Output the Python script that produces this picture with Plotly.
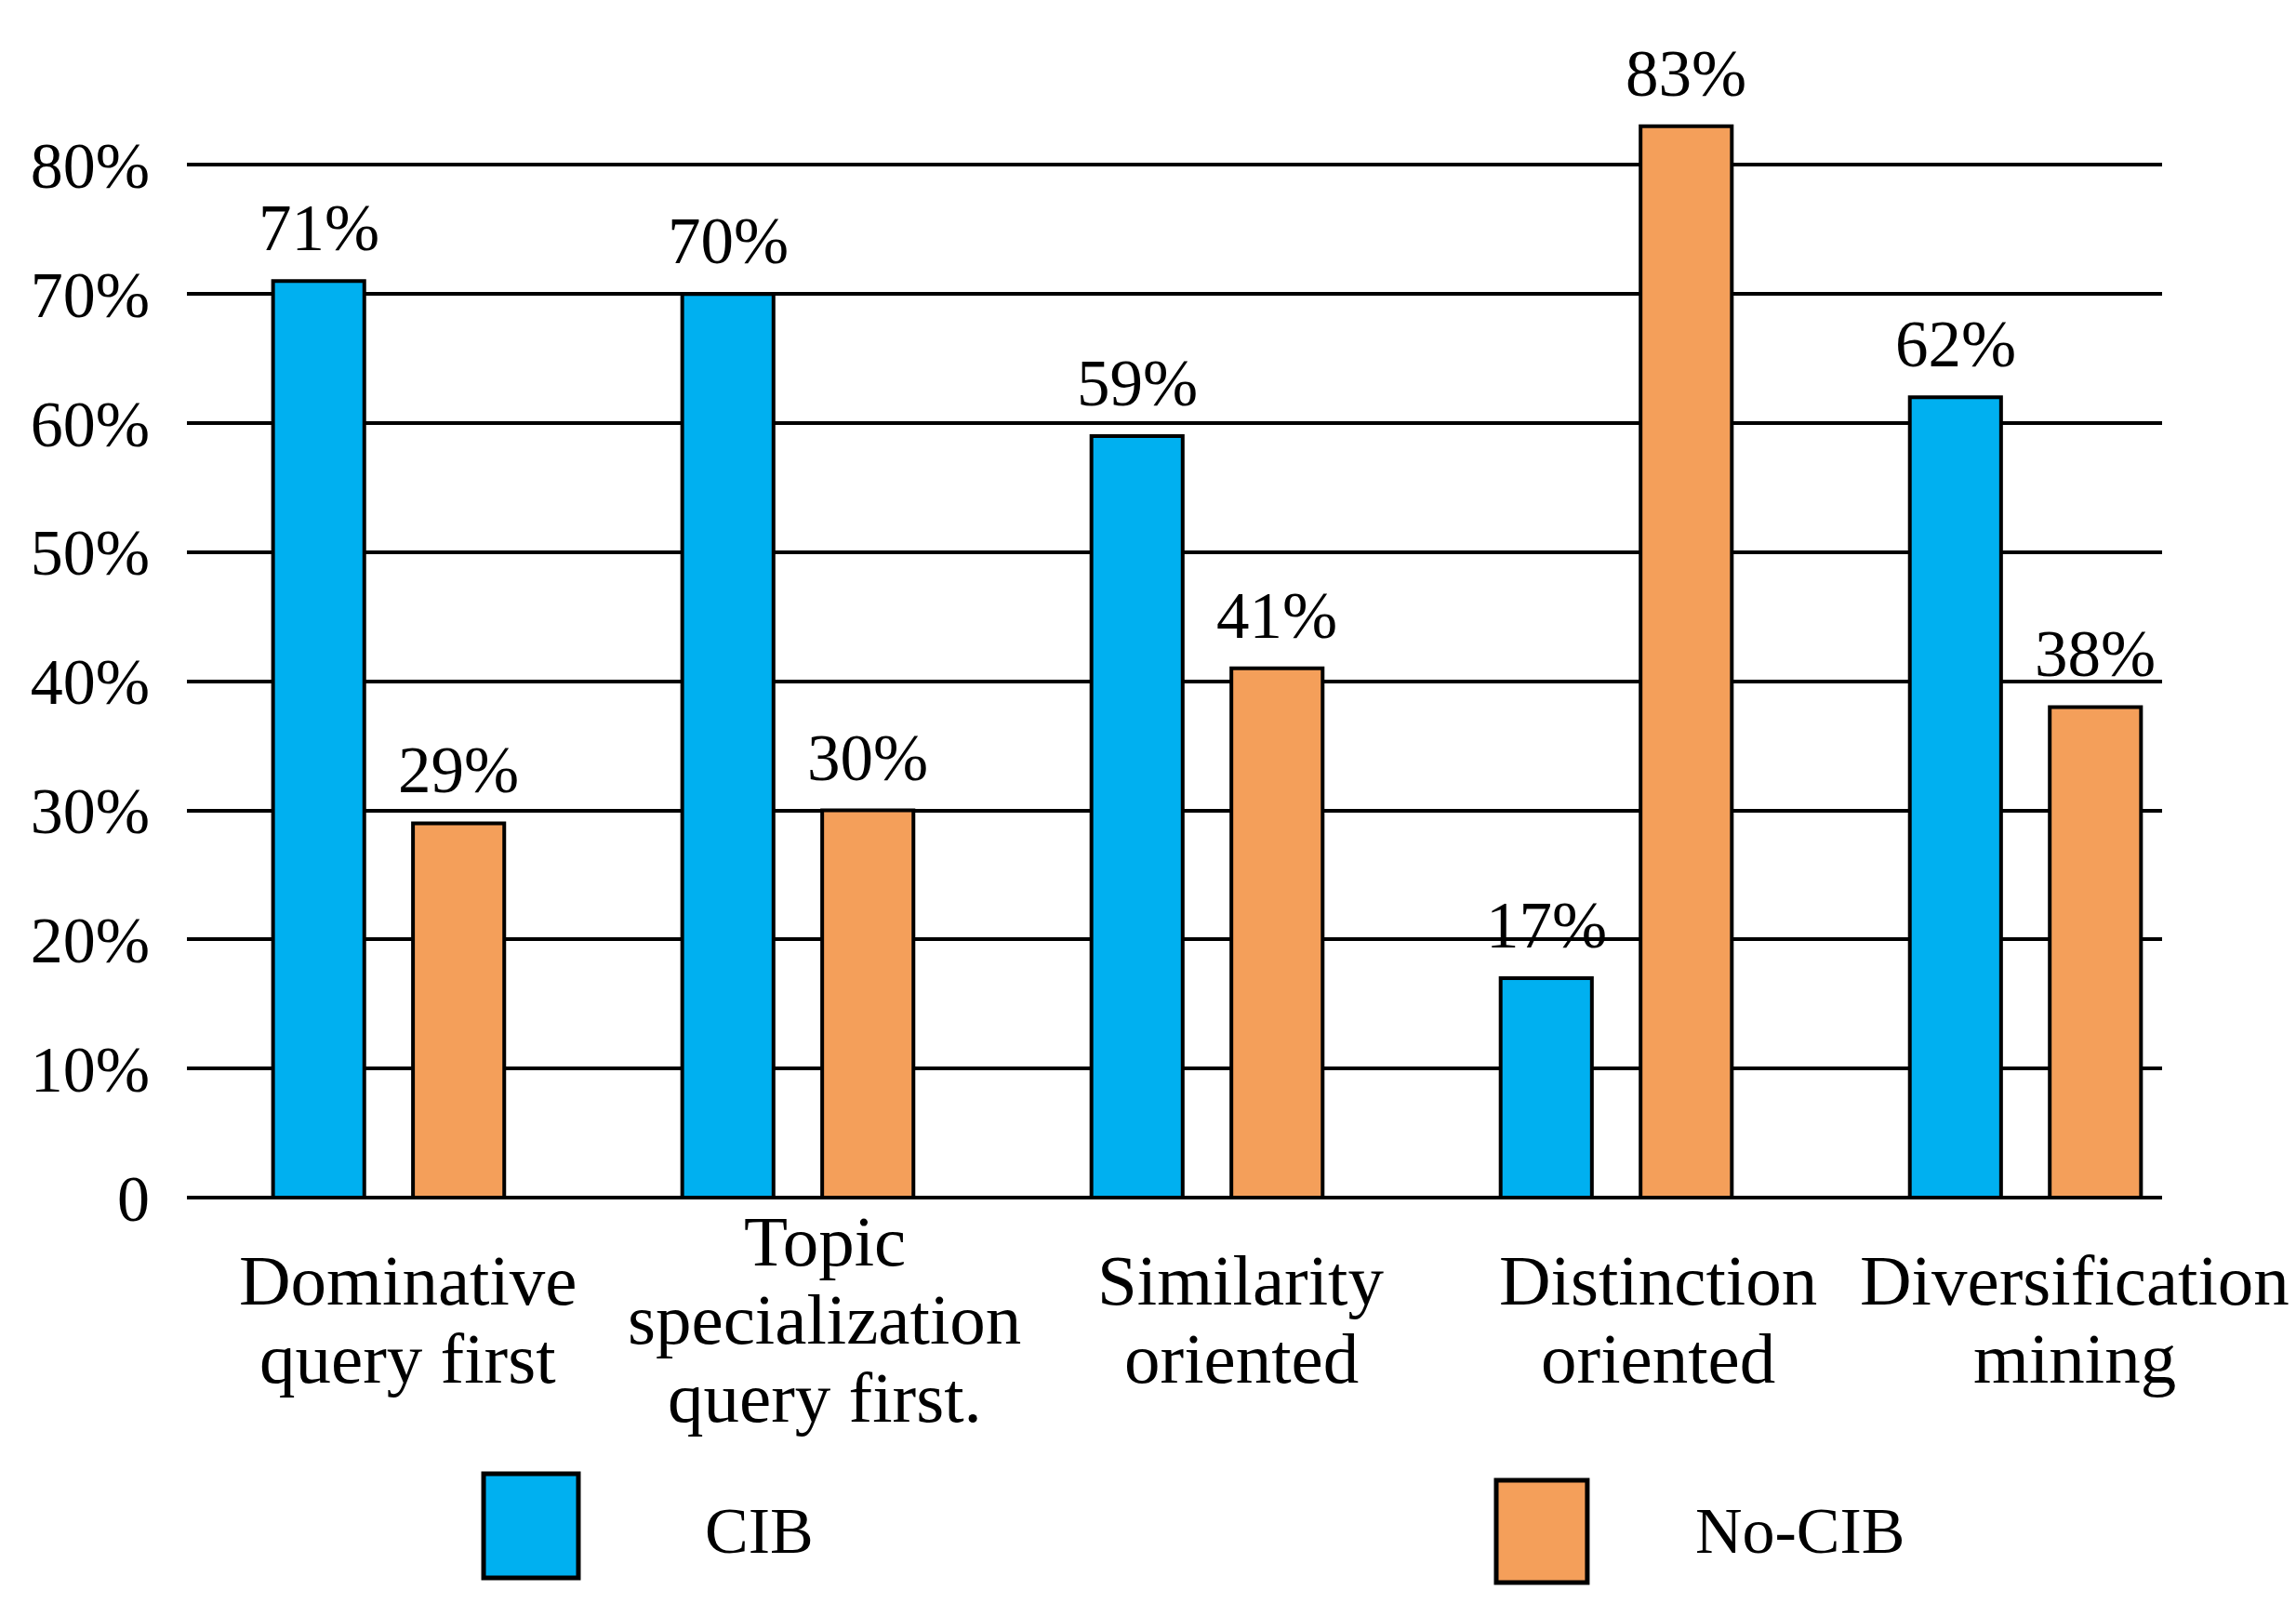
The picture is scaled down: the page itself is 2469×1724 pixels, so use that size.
import plotly.graph_objects as go

categories = ["Dominative<br>query first",
              "Topic<br>specialization<br>query first.",
              "Similarity<br>oriented",
              "Distinction<br>oriented",
              "Diversification<br>mining"]
cib = [71, 70, 59, 17, 62]
no_cib = [29, 30, 41, 83, 38]
cib_labels = ["71%", "70%", "59%", "17%", "62%"]
no_cib_labels = ["29%", "30%", "41%", "83%", "38%"]
tick_vals = [0, 10, 20, 30, 40, 50, 60, 70, 80]
tick_text = ["0", "10%", "20%", "30%", "40%", "50%", "60%", "70%", "80%"]
series_names = ["CIB", "No-CIB"]

FONT = "Liberation Serif"
BLUE = "#00B0F0"
ORANGE = "#F49F5A"

W, H = 2469, 1724
ML, MR, MT, MB = 193, 152, 100, 444
XRANGE = [-0.493, 4.334]          # bar axis
XRANGE_LBL = [-0.531, 4.210]      # axis carrying the category labels
BAR_W = 0.223
HALF_SEP = 0.171
cat_px = (W - ML - MR) / (XRANGE[1] - XRANGE[0])

fig = go.Figure()
fig.add_trace(go.Bar(
    x=categories, y=cib, name=series_names[0],
    marker=dict(color=BLUE, line=dict(color="black", width=4)),
    width=BAR_W, offset=-HALF_SEP - BAR_W / 2,
))
fig.add_trace(go.Bar(
    x=categories, y=no_cib, name=series_names[1],
    marker=dict(color=ORANGE, line=dict(color="black", width=4)),
    width=BAR_W, offset=HALF_SEP - BAR_W / 2,
))

# value labels above the bars
for vals, labs, sgn in [(cib, cib_labels, -1), (no_cib, no_cib_labels, 1)]:
    for c, v, t in zip(categories, vals, labs):
        fig.add_annotation(x=c, y=v, xref="x", yref="y", text=t,
                           showarrow=False, xanchor="center", yanchor="middle",
                           xshift=sgn * HALF_SEP * cat_px, yshift=57,
                           font=dict(family=FONT, size=71, color="black"))

# category labels (each block vertically centred, as in the reference)
LINE_H = 84
for k, c in enumerate(categories):
    lines = c.split("<br>")
    n = len(lines)
    for i, ln in enumerate(lines):
        fig.add_annotation(x=k, y=-0.1106, xref="x2", yref="paper", text=ln,
                           showarrow=False, yanchor="middle", xanchor="center",
                           yshift=-(i - (n - 1) / 2) * LINE_H,
                           font=dict(family=FONT, size=77, color="black"))

# legend swatches and labels
legend_items = [(series_names[0], BLUE, 0.1502, 0.1982, -0.2517, -0.3466, 0.2613),
                (series_names[1], ORANGE, 0.6629, 0.7090, -0.2576, -0.3508, 0.7627)]
for name, col, x0, x1, y0, y1, tx in legend_items:
    fig.add_shape(type="rect", xref="paper", yref="paper",
                  x0=x0, x1=x1, y0=y1, y1=y0,
                  fillcolor=col, line=dict(color="black", width=5))
    fig.add_annotation(x=tx, y=-0.3034, xref="paper", yref="paper", text=name,
                       showarrow=False, xanchor="left", yanchor="middle",
                       font=dict(family=FONT, size=70, color="black"))

fig.update_layout(
    width=W, height=H,
    margin=dict(l=ML, r=MR, t=MT, b=MB),
    plot_bgcolor="white", paper_bgcolor="white",
    barmode="overlay", showlegend=False,
    font=dict(family=FONT, color="black"),
    xaxis=dict(range=XRANGE, showticklabels=False, showgrid=False,
               showline=False, zeroline=False, ticks=""),
    xaxis2=dict(range=XRANGE_LBL, overlaying="x", type="linear", visible=False),
    yaxis=dict(range=[0, 85], tickvals=tick_vals, ticktext=tick_text,
               showgrid=True, gridcolor="black", gridwidth=4,
               zeroline=True, zerolinecolor="black", zerolinewidth=4,
               showline=False, ticks="", ticklabelstandoff=39,
               tickfont=dict(family=FONT, size=70, color="black")),
)

fig.write_html("out.html")
